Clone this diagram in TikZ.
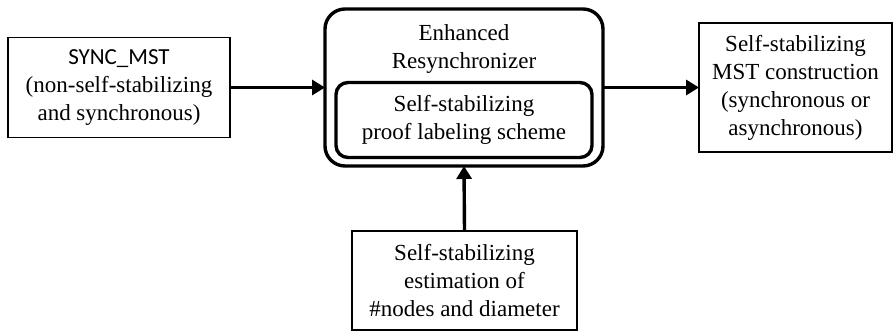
\documentclass[tikz,border=0pt]{standalone}
\usepackage{fontspec}
\setmainfont{Liberation Serif}
\newfontfamily\labelsans{Carlito}
\usepackage{tikz}
\usetikzlibrary{arrows.meta,calc}

\tikzset{
  plainbox/.style={draw=black,line width=1.1pt,align=center,inner sep=0pt},
  roundbox/.style={draw=black,line width=3.4pt,rounded corners=#1,inner sep=0pt},
  flowarrow/.style={draw=black,line width=3.4pt,-{Triangle[length=13pt,width=15pt]}}
}

\begin{document}
\begin{tikzpicture}[y=1pt, x=1pt,yscale=-1, outer sep=0pt,
    font=\fontsize{23}{28}\selectfont]
  \useasboundingbox (0,0) rectangle (894,332);

  % blocks
  \node[plainbox,minimum width=222pt,minimum height=100pt] (syncmst) at (119,87.5)
    {{\labelsans SYNC\_MST}\\(non-self-stabilizing\\and synchronous)};
  \node[roundbox=20pt,minimum width=278pt,minimum height=157pt] (resync) at (464,87.5) {};
  \node[align=center,inner sep=0pt] (resynctitle) at (464,49) {Enhanced\\Resynchronizer};
  \node[roundbox=12pt,minimum width=256pt,minimum height=75pt,align=center]
    (prooflabel) at (464,120) {Self-stabilizing\\proof labeling scheme};
  \node[plainbox,minimum width=193pt,minimum height=129pt] (mstout) at (795.5,87.5)
    {Self-stabilizing\\MST construction\\(synchronous or\\asynchronous)};
  \node[plainbox,minimum width=225pt,minimum height=99pt] (estimate) at (464.5,280.5)
    {Self-stabilizing\\estimation of\\\#nodes and diameter};

  % arrows
  \path[flowarrow] (syncmst.east) -- (resync.west);
  \path[flowarrow] (resync.east) -- (mstout.west);
  \path[flowarrow] (estimate.north) -- (resync.south);

\end{tikzpicture}
\end{document}
